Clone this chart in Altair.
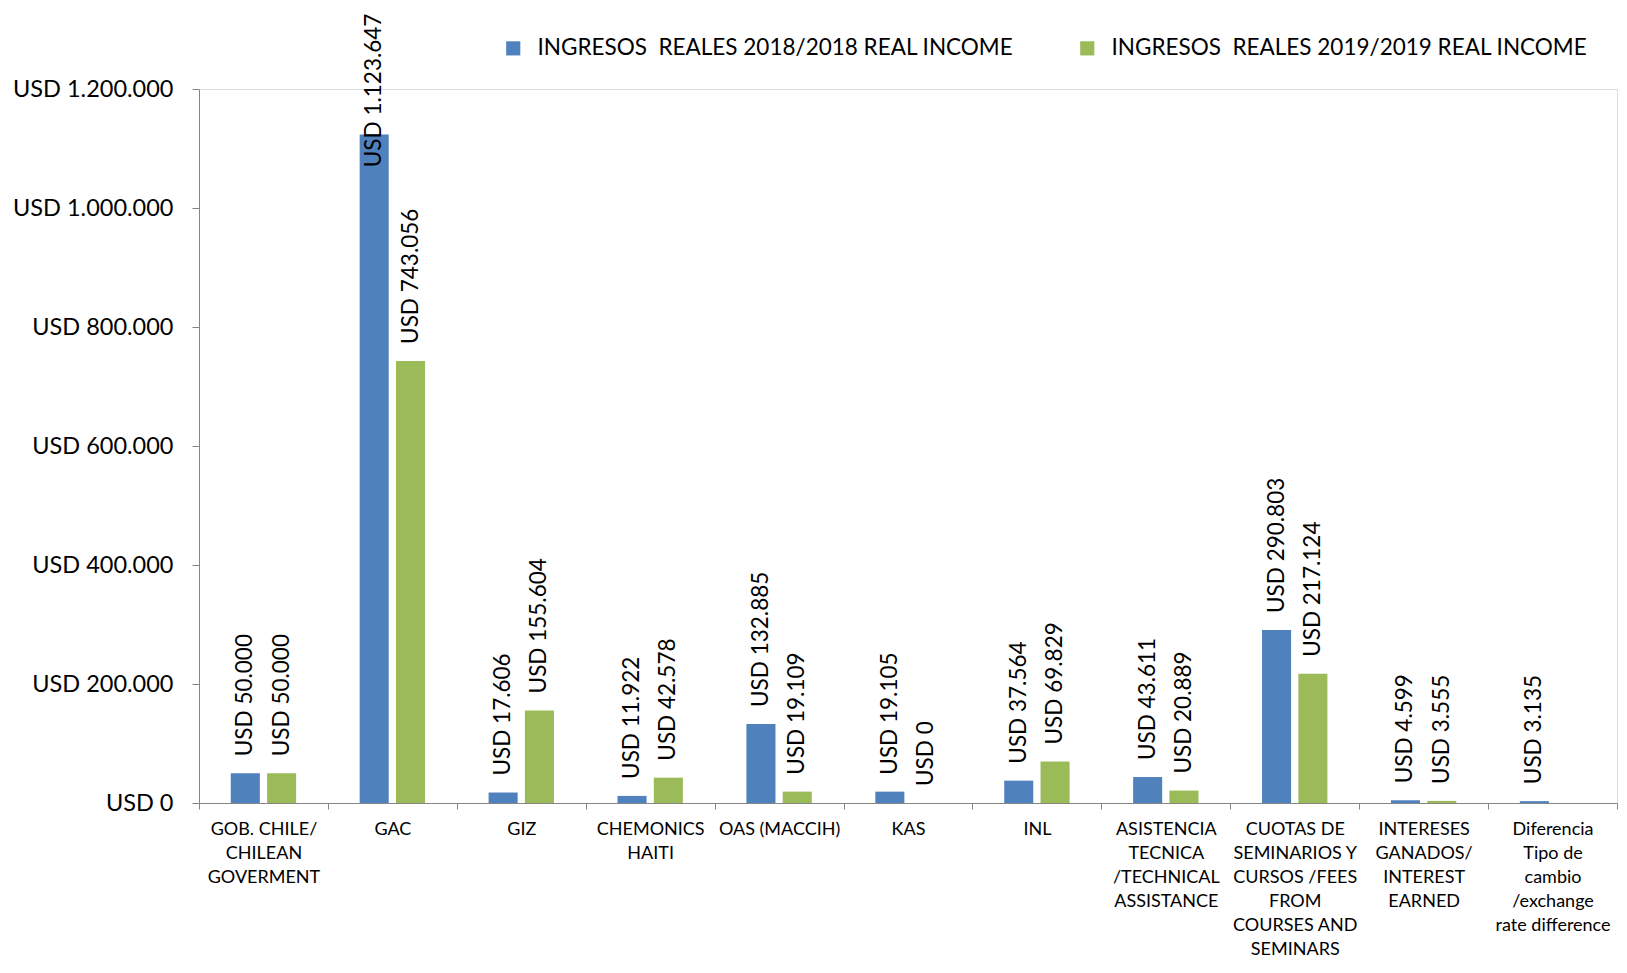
import altair as alt
import pandas as pd

categories = [
    "GOB. CHILE/|CHILEAN|GOVERMENT",
    "GAC",
    "GIZ",
    "CHEMONICS|HAITI",
    "OAS (MACCIH)",
    "KAS",
    "INL",
    "ASISTENCIA|TECNICA|/TECHNICAL|ASSISTANCE",
    "CUOTAS DE|SEMINARIOS Y|CURSOS /FEES|FROM|COURSES AND|SEMINARS",
    "INTERESES|GANADOS/|INTEREST|EARNED",
    "Diferencia|Tipo de|cambio|/exchange|rate difference",
]
series = [
    "INGRESOS\u00a0 REALES 2018/2018 REAL INCOME",
    "INGRESOS\u00a0 REALES 2019/2019 REAL INCOME",
]
values_2018 = [50000, 1123647, 17606, 11922, 132885, 19105, 37564, 43611, 290803, 4599, 3135]
values_2019 = [50000, 743056, 155604, 42578, 19109, 0, 69829, 20889, 217124, 3555, None]
colors = ["#4F81BD", "#9BBB59"]

rows = []
for c, v18, v19 in zip(categories, values_2018, values_2019):
    for s, v in zip(series, [v18, v19]):
        rows.append({
            "cat": c,
            "series": s,
            "value": v,
            "label": None if v is None else "USD " + f"{v:,}".replace(",", "."),
        })
df = pd.DataFrame(rows)

FONT = "Lato"

x_enc = alt.X(
    "cat:N",
    sort=categories,
    scale=alt.Scale(paddingInner=0, paddingOuter=0),
    axis=alt.Axis(
        title=None,
        labelAngle=0,
        labelExpr="split(datum.label, '|')",
        labelFontSize=18,
        labelLineHeight=24,
        labelBaseline="top",
        labelPadding=11,
        labelLimit=200,
        tickBand="extent",
        tickSize=6,
        domainColor="#868686",
        tickColor="#868686",
        labelColor="black",
        labelFont=FONT,
    ),
)
xo_enc = alt.XOffset(
    "series:N", sort=series, scale=alt.Scale(paddingInner=0.2, paddingOuter=0.875)
)

base = alt.Chart(df)

bars = base.mark_bar().encode(
    x=x_enc,
    xOffset=xo_enc,
    y=alt.Y(
        "value:Q",
        scale=alt.Scale(domain=[0, 1200000], nice=False),
        axis=alt.Axis(
            title=None,
            values=[0, 200000, 400000, 600000, 800000, 1000000, 1200000],
            labelExpr="'USD ' + replace(replace(format(datum.value, ','), ',', '.'), ',', '.')",
            labelFontSize=23.5,
            labelPadding=19,
            tickSize=7,
            grid=False,
            domainColor="#868686",
            tickColor="#868686",
            labelColor="black",
            labelFont=FONT,
        ),
    ),
    color=alt.Color(
        "series:N",
        sort=series,
        scale=alt.Scale(domain=series, range=colors),
        legend=alt.Legend(
            title=None,
            orient="none",
            legendX=303,
            legendY=-52,
            direction="horizontal",
            columns=2,
            columnPadding=62,
            symbolType="square",
            symbolSize=200,
            symbolStrokeWidth=0,
            labelFontSize=22.5,
            labelFont=FONT,
            labelColor="black",
            labelOffset=13,
            labelLimit=600,
        ),
    ),
)

labels = base.transform_filter("isValid(datum.value)").transform_calculate(
    labelpos="min(datum.value, 1040000)"
).mark_text(
    angle=270, align="left", baseline="middle", dx=17, fontSize=22.5, font=FONT, color="black"
).encode(
    x=alt.X("cat:N", sort=categories),
    xOffset=alt.XOffset("series:N", sort=series),
    y=alt.Y("labelpos:Q"),
    text="label:N",
)

chart = (
    alt.layer(bars, labels)
    .properties(
        width=1418,
        height=714,
        autosize=alt.AutoSizeParams(type="none"),
        padding={"left": 191, "top": 81, "right": 2, "bottom": 154},
    )
    .configure_view(stroke=None)
    .configure(font=FONT, background="white")
)

chart.save("out.html", embed_options={"renderer": "svg", "actions": False})
